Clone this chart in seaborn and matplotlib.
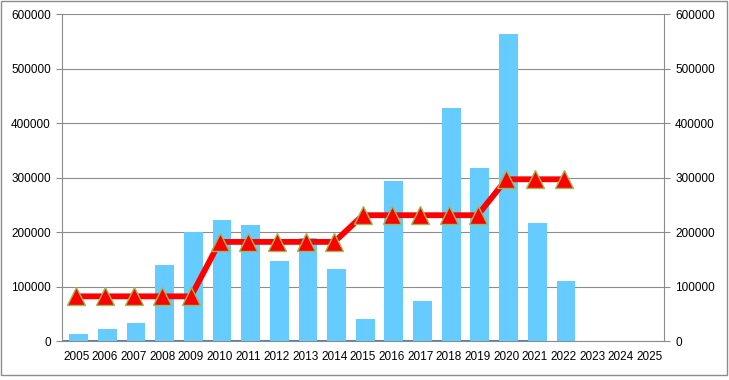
import matplotlib
import matplotlib.pyplot as plt
import numpy as np
import pandas as pd
import seaborn as sns
from matplotlib.patches import Rectangle
from matplotlib.ticker import FixedLocator

matplotlib.use("Agg")
sns.set_theme(style="white")
plt.rcParams["font.family"] = ["Liberation Sans", "DejaVu Sans"]

YEARS = [str(y) for y in range(2005, 2026)]
BAR_VALUES = [13000, 22000, 33000, 140000, 200000, 222000, 213000, 147000, 189000,
              132000, 40000, 294000, 73000, 428000, 318000, 564000, 217000, 110000,
              np.nan, np.nan, np.nan]
SMALL_VALUES = [1500] * 17 + [np.nan] * 4
LINE_VALUES = [82000, 82000, 82000, 82000, 82000, 182000, 182000, 182000, 182000,
               182000, 231000, 231000, 231000, 231000, 231000, 297000, 297000, 297000,
               np.nan, np.nan, np.nan]
Y_TICKS = [0, 100000, 200000, 300000, 400000, 500000, 600000]

GRID = "#8c8c8c"
FS = 8.5

df = pd.DataFrame({
    "pos": np.arange(len(YEARS)),
    "bars": BAR_VALUES,
    "small": SMALL_VALUES,
    "line": LINE_VALUES,
})

fig = plt.figure(figsize=(7.29, 3.80), dpi=100)
ax = fig.add_axes([62 / 729, 1 - 341 / 380, (664 - 62) / 729, (341 - 14.3) / 380])

# tiny dark series sits just left of the light blue bars
ax.bar(df["pos"] - 0.26, df["small"], width=0.66, color="#4F81BD",
       linewidth=0, zorder=2)
ax.bar(df["pos"] + 0.08, df["bars"], width=0.66, color="#66CCFF",
       linewidth=0, zorder=3)

sns.lineplot(data=df, x="pos", y="line", ax=ax, color="#FF0000", linewidth=4.2,
             marker="^", markersize=13, markerfacecolor="#FF0000",
             markeredgecolor="#9BBB59", markeredgewidth=1.0, zorder=5)

ax.set_xlim(-0.5, len(YEARS) - 0.5)
ax.set_ylim(0, 600000)
ax.set_yticks(Y_TICKS)
ax.set_yticklabels([str(v) for v in Y_TICKS])
ax.set_xticks(df["pos"])
ax.set_xticklabels(YEARS)
ax.xaxis.set_minor_locator(FixedLocator(np.arange(-0.5, len(YEARS), 1.0)))
ax.tick_params(axis="x", which="major", length=0, pad=7, labelsize=FS,
               labelcolor="black")
ax.tick_params(axis="x", which="minor", length=4, color=GRID, width=0.8)
ax.tick_params(axis="y", length=4, color=GRID, width=0.8, labelsize=FS, pad=4,
               labelcolor="black")
ax.set_xlabel("")
ax.set_ylabel("")
ax.grid(axis="y", color=GRID, linewidth=0.8, zorder=0)
ax.set_axisbelow(True)
for side in ["top", "right"]:
    ax.spines[side].set_visible(False)
for side in ["left", "bottom"]:
    ax.spines[side].set_color(GRID)
    ax.spines[side].set_linewidth(0.8)

ax2 = ax.twinx()
ax2.set_ylim(0, 600000)
ax2.set_yticks(Y_TICKS)
ax2.set_yticklabels([str(v) for v in Y_TICKS])
ax2.tick_params(axis="y", length=4, color=GRID, width=0.8, labelsize=FS, pad=4,
                labelcolor="black")
for side in ["top", "left", "bottom"]:
    ax2.spines[side].set_visible(False)
ax2.spines["right"].set_color(GRID)
ax2.spines["right"].set_linewidth(0.8)

fig.patches.append(Rectangle((1 / 729, 5 / 380), 726 / 729, 374 / 380,
                             transform=fig.transFigure, fill=False,
                             edgecolor="#8c8c8c", linewidth=1.0))

fig.savefig("out.png", dpi=100)
